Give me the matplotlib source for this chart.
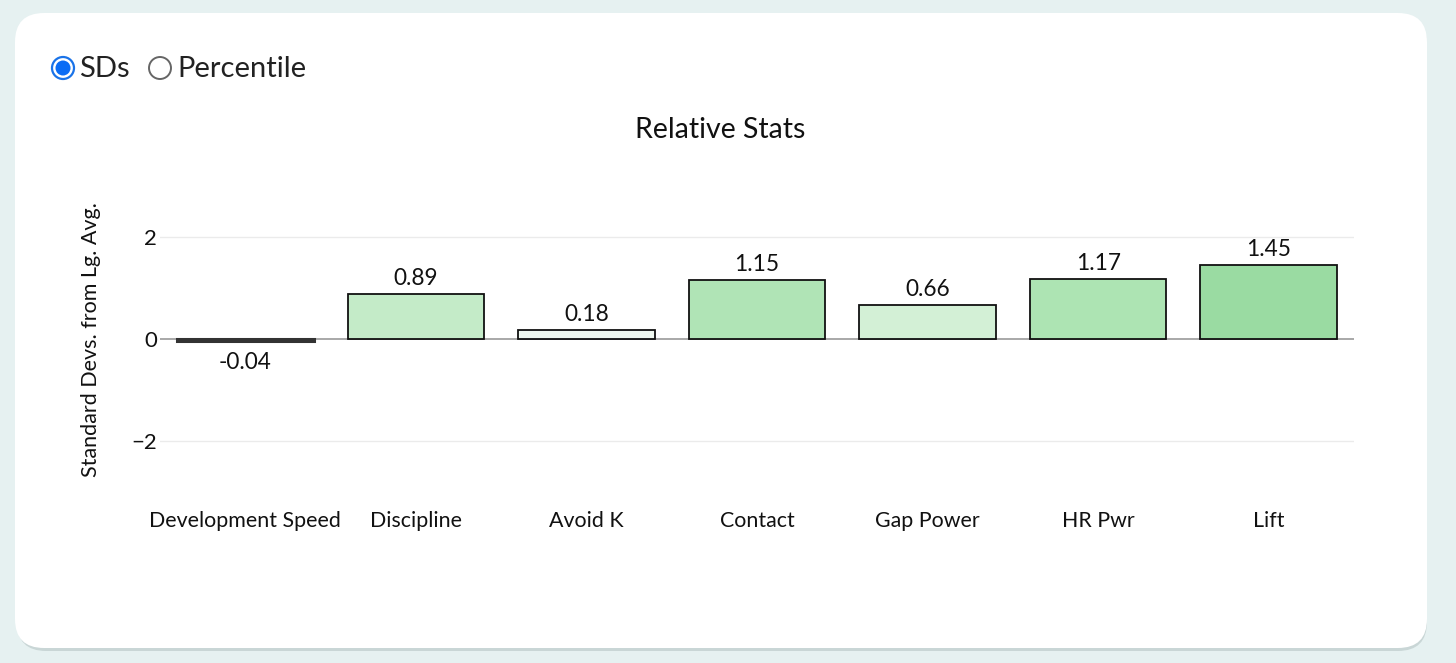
import matplotlib
matplotlib.use("Agg")
import matplotlib.pyplot as plt
from matplotlib.patches import FancyBboxPatch, Ellipse

plt.rcParams['font.family'] = ['Lato', 'DejaVu Sans']

categories = ["Development Speed", "Discipline", "Avoid K", "Contact", "Gap Power", "HR Pwr", "Lift"]
values = [-0.04, 0.89, 0.18, 1.15, 0.66, 1.17, 1.45]
labels = ["-0.04", "0.89", "0.18", "1.15", "0.66", "1.17", "1.45"]
colors = ["#f7e9e9", "#c4ebc8", "#f0f9f1", "#b0e4b6", "#d3f0d6", "#ade4b3", "#9adba2"]
yticks = [-2, 0, 2]
ytick_labels = ["\u22122", "0", "2"]

W, H = 1456, 663
fig = plt.figure(figsize=(W / 100, H / 100), dpi=100)
fig.patch.set_facecolor("#e6f1f1")

def fx(px):
    return px / W

def fy(py):
    return 1 - py / H

# card shadow and card
shadow = FancyBboxPatch((fx(17), fy(651)), fx(1410), fy(16) - fy(651),
                        boxstyle="round,pad=0,rounding_size=0.02",
                        transform=fig.transFigure, facecolor="#c9d6d6",
                        edgecolor="none", zorder=0, mutation_aspect=W / H)
fig.patches.append(shadow)
card = FancyBboxPatch((fx(15), fy(648)), fx(1412), fy(13) - fy(648),
                      boxstyle="round,pad=0,rounding_size=0.02",
                      transform=fig.transFigure, facecolor="white",
                      edgecolor="none", zorder=1, mutation_aspect=W / H)
fig.patches.append(card)

# radio buttons
def circ(cx, cy, r, **kw):
    return Ellipse((fx(cx), fy(cy)), 2 * r / W, 2 * r / H, transform=fig.transFigure, **kw)

r1 = circ(63, 68, 11, facecolor="white", edgecolor="#1a73e8", linewidth=1.6, zorder=3)
r1in = circ(63, 68, 7.5, facecolor="#0a6cf5", edgecolor="none", zorder=4)
r2 = circ(160, 68, 11, facecolor="white", edgecolor="#666666", linewidth=1.4, zorder=3)
fig.patches.extend([r1, r1in, r2])
fig.text(fx(79), fy(69), "SDs", fontsize=21, va="center", ha="left", color="#222222", zorder=5)
fig.text(fx(177), fy(69), "Percentile", fontsize=21, va="center", ha="left", color="#222222", zorder=5)

# title
fig.text(fx(720), fy(130), "Relative Stats", fontsize=20.5, ha="center", va="center", color="#111111", zorder=5)

ax = fig.add_axes([fx(160), fy(492), fx(1354) - fx(160), fy(186) - fy(492)])
ax.set_zorder(2)
ax.patch.set_alpha(0)
x = list(range(len(categories)))
bars = ax.bar(x, values, width=0.8, color=colors, edgecolor="#111111", linewidth=1.3, zorder=3)
bars[0].set_linewidth(2.2)
bars[0].set_edgecolor("#333333")

for xi, v, lab in zip(x, values, labels):
    if v >= 0:
        ax.annotate(lab, (xi, v), xytext=(0, 3.5), textcoords="offset points",
                    ha="center", va="bottom", fontsize=16.3, color="#111111")
    else:
        ax.annotate(lab, (xi, v), xytext=(0, -8), textcoords="offset points",
                    ha="center", va="top", fontsize=16.3, color="#111111")

ax.set_xlim(-0.5, len(categories) - 0.5)
ax.set_ylim(-3, 3)
ax.set_yticks(yticks)
ax.set_yticklabels(ytick_labels)
ax.set_xticks(x)
ax.set_xticklabels(categories)
ax.tick_params(axis="x", length=0, pad=14, labelsize=15.4, labelcolor="#111111")
ax.tick_params(axis="y", length=0, pad=2, labelsize=16, labelcolor="#111111")
for s in ax.spines.values():
    s.set_visible(False)
for t in [-2, 2]:
    ax.axhline(t, color="#ebebeb", linewidth=1, zorder=1)
ax.axhline(0, color="#999999", linewidth=1.2, zorder=2)

fig.text(fx(91), fy(340), "Standard Devs. from Lg. Avg.", rotation=90, fontsize=15.5,
         ha="center", va="center", color="#111111", zorder=5)

fig.savefig("out.png", dpi=100, facecolor=fig.get_facecolor())
